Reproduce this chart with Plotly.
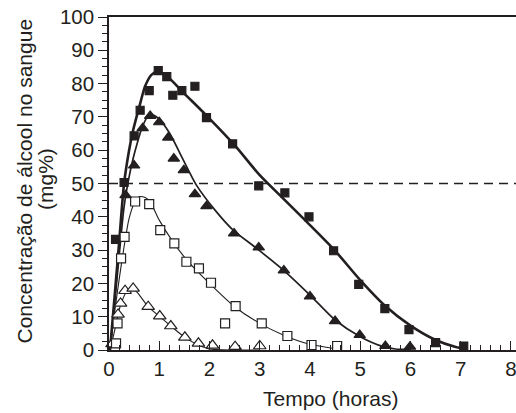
import plotly.graph_objects as go

# ---- data ----
LIMIT = 50

# filled squares (highest dose)
sq_f_t = [0.13, 0.30, 0.50, 0.62, 0.80, 0.98, 1.15, 1.27, 1.45, 1.71, 1.94, 2.46, 2.98, 3.50, 3.98, 4.47, 4.97, 5.49, 5.97, 6.50, 7.06]
sq_f_c = [33.2, 50.3, 64.3, 72.0, 77.9, 83.9, 82.1, 76.5, 77.9, 79.2, 69.8, 61.9, 49.3, 47.2, 40.0, 29.8, 19.7, 12.4, 6.1, 2.2, 1.2]
sq_f_curve_t = [0.02, 0.10, 0.20, 0.30, 0.40, 0.48, 0.62, 0.72, 0.85, 0.97, 1.15, 1.50, 2.00, 2.50, 3.00, 3.50, 4.00, 4.50, 5.00, 5.50, 6.00, 6.50, 6.90, 7.10]
sq_f_curve_c = [0.0, 14.0, 32.0, 50.0, 60.0, 66.0, 74.0, 79.3, 82.7, 83.6, 82.3, 77.0, 69.5, 61.5, 52.5, 45.0, 37.5, 29.8, 21.0, 13.2, 7.3, 3.0, 0.9, 0.3]

# filled triangles
tr_f_t = [0.33, 0.50, 0.67, 0.82, 1.00, 1.18, 1.29, 1.49, 1.71, 1.94, 2.49, 2.98, 3.48, 4.00, 4.50, 4.99, 5.50, 5.99]
tr_f_c = [46.5, 55.4, 66.6, 70.3, 68.4, 63.8, 57.5, 54.0, 46.8, 43.2, 35.0, 30.8, 23.9, 16.1, 8.7, 4.5, 1.2, 1.0]
tr_f_curve_t = [0.02, 0.10, 0.20, 0.30, 0.40, 0.48, 0.56, 0.65, 0.78, 0.86, 1.01, 1.21, 1.48, 1.74, 2.11, 2.47, 2.94, 3.47, 4.00, 4.50, 5.00, 5.46, 5.70, 6.00]
tr_f_curve_c = [0.0, 12.0, 28.0, 43.0, 52.0, 57.5, 62.0, 66.5, 70.3, 70.6, 69.2, 65.0, 57.0, 49.5, 42.0, 36.0, 30.5, 24.0, 16.5, 9.0, 4.0, 1.0, 0.3, 0.2]

# open squares
sq_o_t = [0.14, 0.17, 0.24, 0.31, 0.52, 0.80, 1.02, 1.30, 1.54, 1.79, 2.03, 2.31, 2.52, 3.04, 3.55, 4.03, 4.54]
sq_o_c = [2.0, 8.0, 27.5, 34.0, 44.6, 43.8, 36.0, 32.0, 26.5, 24.5, 20.2, 8.0, 13.2, 8.0, 4.2, 1.5, 1.2]
sq_o_curve_t = [0.02, 0.10, 0.20, 0.30, 0.40, 0.50, 0.60, 0.72, 0.82, 1.00, 1.25, 1.55, 2.00, 2.50, 3.00, 3.50, 4.00, 4.50]
sq_o_curve_c = [0.0, 10.0, 21.0, 31.0, 39.5, 44.0, 46.0, 45.8, 44.5, 39.0, 33.0, 27.0, 20.0, 13.0, 8.0, 4.3, 1.7, 0.4]

# open triangles (lowest dose)
tr_o_t = [0.06, 0.18, 0.23, 0.32, 0.48, 0.78, 1.01, 1.23, 1.51, 1.78, 2.06, 2.51, 3.00]
tr_o_c = [1.8, 10.7, 14.0, 17.8, 18.5, 13.0, 10.2, 7.2, 3.8, 2.0, 1.4, 1.0, 1.2]
tr_o_curve_t = [0.02, 0.10, 0.22, 0.35, 0.45, 0.55, 0.78, 1.01, 1.23, 1.51, 1.78, 2.00, 2.50, 3.00]
tr_o_curve_c = [0.0, 5.0, 13.0, 17.5, 18.5, 17.5, 13.0, 10.0, 7.2, 3.8, 1.5, 0.3, 0.0, 0.0]

x_ticks = [0, 1, 2, 3, 4, 5, 6, 7, 8]
y_ticks = [0, 10, 20, 30, 40, 50, 60, 70, 80, 90, 100]

INK = "#231f20"
FONT = "Liberation Sans, Arial, sans-serif"

W, H = 516, 413
ML, MT, MB, MR = 109, 17, 63, 0
PW, PH = W - ML - MR, H - MT - MB

def px_x(px):
    return (px - ML) / PW

def px_y(py):
    return (H - MB - py) / PH

fig = go.Figure()

curves = [
    (sq_o_curve_t, sq_o_curve_c, 1.1),
    (tr_o_curve_t, tr_o_curve_c, 1.1),
    (tr_f_curve_t, tr_f_curve_c, 1.7),
    (sq_f_curve_t, sq_f_curve_c, 2.6),
]
for t, c, w in curves:
    fig.add_trace(go.Scatter(x=t, y=c, mode="lines",
                             line=dict(color=INK, width=w, shape="spline", smoothing=0.7),
                             cliponaxis=False, hoverinfo="skip", showlegend=False))

markers = [
    (tr_o_t, tr_o_c, "triangle-up", "white", 11),
    (sq_o_t, sq_o_c, "square", "white", 9),
    (tr_f_t, tr_f_c, "triangle-up", INK, 10),
    (sq_f_t, sq_f_c, "square", INK, 8),
]
for t, c, sym, fill, size in markers:
    fig.add_trace(go.Scatter(x=t, y=c, mode="markers",
                             marker=dict(symbol=sym, size=size, color=fill,
                                         line=dict(color=INK, width=1.2)),
                             cliponaxis=False, showlegend=False))

fig.add_hline(y=LIMIT, line=dict(color=INK, width=1.5, dash="9px,6px"))

fig.update_layout(
    width=W, height=H,
    margin=dict(l=ML, r=MR, t=MT, b=MB, autoexpand=False),
    paper_bgcolor="white", plot_bgcolor="white",
    font=dict(family=FONT, size=20.5, color=INK),
    xaxis=dict(range=[0, 8.1], tickvals=x_ticks, ticks="inside", ticklen=9, tickwidth=1.3,
               tickcolor=INK, showline=True, linecolor=INK, linewidth=1.5, mirror=True,
               showgrid=False, zeroline=False, automargin=False, ticklabeloverflow="allow",
               minor=dict(dtick=0.2, ticks="inside", ticklen=5, tickwidth=1.1, tickcolor=INK),
               tickfont=dict(size=20.5, color=INK)),
    yaxis=dict(range=[0, 100], tickvals=y_ticks, ticks="outside", ticklen=9, tickwidth=1.3,
               tickcolor=INK, showline=True, linecolor=INK, linewidth=1.5,
               showgrid=False, zeroline=False, automargin=False, ticklabeloverflow="allow",
               minor=dict(dtick=2.5, ticks="outside", ticklen=5, tickwidth=1.1, tickcolor=INK),
               tickfont=dict(size=20.5, color=INK)),
    annotations=[
        dict(text="Tempo (horas)", xref="paper", yref="paper", x=px_x(330), y=px_y(398),
             xanchor="center", yanchor="middle", showarrow=False,
             font=dict(size=21, color=INK, family=FONT)),
        dict(text="Concentração de álcool no sangue", xref="paper", yref="paper",
             x=px_x(24), y=px_y(181.5), textangle=-90,
             xanchor="center", yanchor="middle", showarrow=False,
             font=dict(size=21, color=INK, family=FONT)),
        dict(text="(mg%)", xref="paper", yref="paper",
             x=px_x(45), y=px_y(179), textangle=-90,
             xanchor="center", yanchor="middle", showarrow=False,
             font=dict(size=21, color=INK, family=FONT)),
    ],
)

# remove the browser's default 8px body margin so the figure sits at the page origin
fig.write_html("out.html", config={"displayModeBar": False},
               post_script="document.body.style.margin='0';")
